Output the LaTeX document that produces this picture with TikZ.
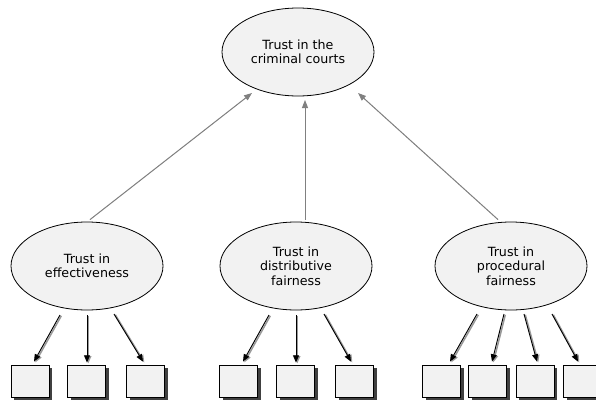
\documentclass[tikz,border=0pt]{standalone}
\usepackage{fontspec}
\newfontfamily\dejavu{DejaVu Sans}
\usetikzlibrary{shapes.geometric,arrows.meta,calc,shadows}
\tikzset{
  latent/.style={ellipse, draw=black, line width=0.6pt, fill=black!5,
    minimum width=114pt, minimum height=66pt, inner sep=0pt, align=center,
    font=\dejavu\fontsize{9.5}{10.8}\selectfont},
  indic/.style={rectangle, draw=black, line width=0.6pt, fill=black!5,
    minimum width=28.5pt, minimum height=24pt, inner sep=0pt,
    drop shadow={shadow xshift=2.25pt, shadow yshift=-2.25pt, fill=black!75, opacity=1}},
  uparrow/.style={draw=black!50, line width=0.75pt,
    -{Triangle[length=6pt,width=4.5pt]}, fill=black!50},
  downarrow/.style={draw=black, line width=0.7pt,
    -{Triangle[length=5.5pt,width=4.5pt]},
    preaction={draw=black!40, line width=1.1pt, transform canvas={shift={(1pt,-0.6pt)}},
      -{Triangle[length=5.5pt,width=4.5pt]}}}
}
\begin{document}
\begin{tikzpicture}[x=0.75pt,y=-0.75pt]
\useasboundingbox (0,0) rectangle (596,400);
\clip (0,0) rectangle (596,400);
\fill[white] (0,0) rectangle (596,400);

\node[latent] (top) at (298,52) {Trust in the\\criminal courts};
\node[latent] (e1) at (87,266) {Trust in\\effectiveness};
\node[latent] (e2) at (296,266) {Trust in\\distributive\\fairness};
\node[latent] (e3) at (511,266) {Trust in\\procedural\\fairness};

\node[indic] (b11) at (30,381) {};
\node[indic] (b12) at (86.5,381) {};
\node[indic] (b13) at (145.5,381) {};
\node[indic] (b21) at (238.5,381) {};
\node[indic] (b22) at (295.5,381) {};
\node[indic] (b23) at (354.5,381) {};
\node[indic] (b31) at (441.5,381) {};
\node[indic] (b32) at (487.5,381) {};
\node[indic] (b33) at (535,381) {};
\node[indic] (b34) at (582.5,381) {};

% upward arrows
\draw[uparrow] ($(e1.north)+(3,-2)$) -- ($(top.center)+(-46,41)$);
\draw[uparrow] ($(e2.north)+(9,-2)$) -- ($(top.center)+(7,48)$);
\draw[uparrow] ($(e3.north)+(-13,-2)$) -- ($(top.center)+(60,41)$);

% downward arrows
\draw[downarrow] ($(e1.center)+(-27,49)$) -- ($(b11.north)+(4,-3)$);
\draw[downarrow] ($(e1.center)+(0,49)$) -- ($(b12.north)+(0.5,-2)$);
\draw[downarrow] ($(e1.center)+(27,48)$) -- ($(b13.north)+(-2.5,-3)$);

\draw[downarrow] ($(e2.center)+(-27,49)$) -- ($(b21.north)+(4.5,-3)$);
\draw[downarrow] ($(e2.center)+(0,49)$) -- ($(b22.north)+(0.5,-2)$);
\draw[downarrow] ($(e2.center)+(28,48)$) -- ($(b23.north)+(-3.5,-3)$);

\draw[downarrow] ($(e3.center)+(-34,48)$) -- ($(b31.north)+(8.5,-3)$);
\draw[downarrow] ($(e3.center)+(-7,48)$) -- ($(b32.north)+(4.5,-3)$);
\draw[downarrow] ($(e3.center)+(13,48)$) -- ($(b33.north)+(2,-3)$);
\draw[downarrow] ($(e3.center)+(41,48)$) -- ($(b34.north)+(-4.5,-3)$);
\end{tikzpicture}
\end{document}
